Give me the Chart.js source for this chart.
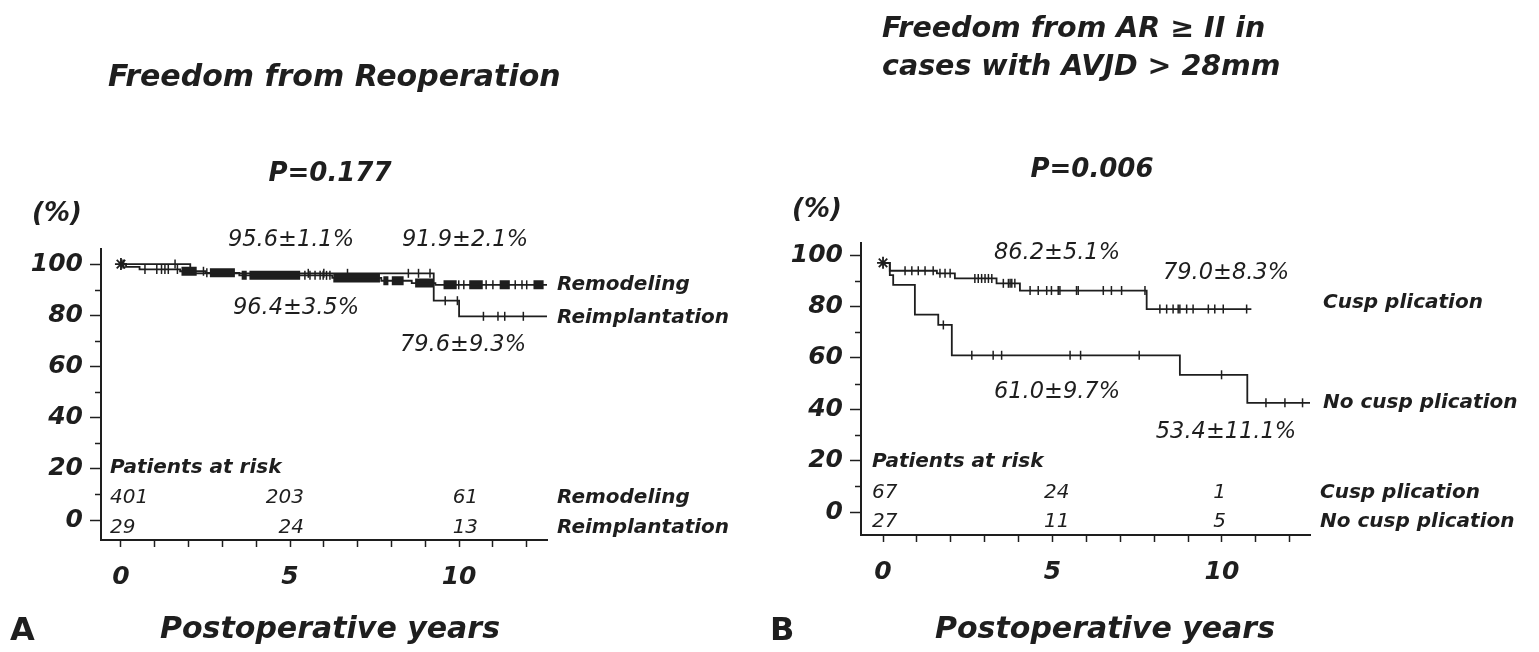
<!DOCTYPE html>
<html>
<head>
<meta charset="utf-8">
<script src="https://cdn.jsdelivr.net/npm/chart.js@4.4.0/dist/chart.umd.min.js"></script>
<style>
  html, body { margin: 0; padding: 0; background: #fff; }
  #wrap { position: relative; width: 1539px; height: 652px; overflow: hidden; }
  .panel { position: absolute; top: 0; height: 652px; }
  #pA { left: 0; width: 770px; }
  #pB { left: 770px; width: 769px; }
</style>
</head>
<body>
<div id="wrap">
  <div class="panel" id="pA"><canvas id="chartA"></canvas></div>
  <div class="panel" id="pB"><canvas id="chartB"></canvas></div>
</div>
<script>
// ---- data, panel A: freedom from reoperation ----
const remodelingYears = [0, 0.15, 0.55, 1.75, 2.5, 3.5, 6.25, 7.7, 8.6, 9.3, 12.75];
const remodelingPct   = [100, 98.9, 97.9, 97.2, 96.6, 95.6, 94.6, 93.5, 92.6, 91.9, 91.9];
const remodelingCensor = [0.03, 0.08, 0.71, 1.06, 1.2, 1.3, 1.4, 1.67, 2.44, 2.54, 5.44, 5.59, 5.74, 5.89, 5.98, 6.08, 6.18, 9.99, 10.14, 10.8, 11.0, 11.66, 11.86, 12.0];
// stretches where the censoring ticks merge into a solid bar
const remodelingCensorRuns = [[1.79, 2.24], [2.63, 3.37], [3.57, 3.72], [3.8, 5.3], [6.28, 7.66], [7.76, 7.91], [8.01, 8.36], [8.7, 9.25], [9.54, 9.93], [10.3, 10.7], [11.2, 11.5], [12.2, 12.5]];

const reimplantYears = [0, 2.05, 9.25, 10.0, 12.65];
const reimplantPct   = [100, 96.4, 85.7, 79.6, 79.6];
const reimplantCensor = [1.6, 5.54, 6.0, 6.7, 8.5, 8.8, 9.14, 9.59, 9.95, 10.72, 11.15, 11.35, 11.9];

// ---- data, panel B: freedom from AR >= II, AVJD > 28mm ----
const cuspYears = [0, 0.2, 1.59, 2.12, 3.35, 4.04, 7.78, 10.87];
const cuspPct   = [97, 93.9, 92.9, 90.9, 89.0, 86.2, 79.0, 79.0];
const cuspCensor = [0.65, 0.85, 1.04, 1.24, 1.48, 1.68, 1.83, 1.98, 2.71, 2.81, 2.91, 3.01, 3.11, 3.21, 3.55, 3.70, 3.75, 3.80, 3.89,
  4.34, 4.58, 4.83, 4.97, 5.17, 5.22, 5.71, 5.76, 6.50, 6.74, 7.04, 7.73, 8.17, 8.37, 8.56, 8.71, 8.76, 8.96, 9.15, 9.60, 9.79, 10.04, 10.73];

const noCuspYears = [0, 0.2, 0.3, 0.94, 1.63, 2.03, 8.76, 10.75, 12.6];
const noCuspPct   = [97, 92.2, 88.4, 76.8, 72.8, 61.0, 53.4, 42.5, 42.5];
const noCuspCensor = [1.78, 2.62, 3.25, 3.50, 5.52, 5.83, 7.56, 9.99, 11.30, 11.86, 12.38];

// ---- patients at risk ----
const riskYears = [0, 5, 10];
const riskRemodeling = [401, 203, 61];
const riskReimplant = [29, 24, 13];
const riskCusp = [67, 24, 1];
const riskNoCusp = [27, 11, 5];

const xTickLabels = [0, 5, 10];
const yTickLabels = [0, 20, 40, 60, 80, 100];

const INK = '#1e1e1e';
const FAM = '"DejaVu Sans", sans-serif';

function survAt(T, S, t) {
  let s = S[0];
  for (let i = 0; i < T.length; i++) if (T[i] <= t) s = S[i];
  return s;
}

function curveSet(T, S) {
  return {
    type: 'line', data: T.map((t, i) => ({x: t, y: S[i]})),
    stepped: true, borderColor: INK, borderWidth: 1.8, pointRadius: 0, fill: false
  };
}
function censorSet(T, S, times) {
  return {
    type: 'scatter', data: times.map(t => ({x: t, y: survAt(T, S, t)})),
    pointStyle: 'line', rotation: 90, radius: 4.5, borderColor: INK, borderWidth: 1.5, backgroundColor: INK
  };
}
function runSet(T, S, runs) {
  const pts = [];
  runs.forEach(([a, b]) => {
    const s = survAt(T, S, a);
    pts.push({x: a, y: s}, {x: b, y: s}, {x: b, y: null});
  });
  return {
    type: 'line', data: pts, borderColor: INK, borderWidth: 9, borderCapStyle: 'butt',
    pointRadius: 0, spanGaps: false, fill: false
  };
}
function startSet(T, S) {
  return {
    type: 'scatter', data: [{x: T[0], y: S[0]}],
    pointStyle: 'star', radius: 6, borderColor: INK, borderWidth: 1.8
  };
}

const textPlugin = {
  id: 'texts',
  afterDraw(chart, args, opts) {
    const ctx = chart.ctx;
    const xs = chart.scales.x;
    const ys = chart.scales.y;
    ctx.save();
    ctx.fillStyle = INK;
    ctx.textBaseline = 'middle';
    // short minor ticks on the y axis
    ctx.strokeStyle = INK;
    ctx.lineWidth = 1.5;
    ys.ticks.forEach(tk => {
      if (yTickLabels.includes(tk.value)) return;
      const py = Math.round(ys.getPixelForValue(tk.value)) + 0.5;
      ctx.beginPath();
      ctx.moveTo(ys.right - 6, py);
      ctx.lineTo(ys.right, py);
      ctx.stroke();
    });
    (opts.items || []).forEach(it => {
      ctx.font = it.font;
      ctx.textAlign = it.align || 'left';
      ctx.fillText(it.t, it.x, it.y);
    });
    // patients at risk table
    const r = opts.risk;
    ctx.font = r.font;
    r.rows.forEach((row, ri) => {
      row.forEach((n, i) => {
        if (i === 0) {
          ctx.textAlign = 'left';
          ctx.fillText(String(n), xs.left + r.firstInset, r.y[ri]);
        } else {
          ctx.textAlign = 'right';
          ctx.fillText(String(n), xs.getPixelForValue(riskYears[i]) + r.rightShift[i], r.y[ri]);
        }
      });
    });
    ctx.restore();
  }
};

function axisFont(size) {
  return {family: FAM, size: size, weight: 'bold', style: 'italic'};
}

function makeChart(id, p) {
  return new Chart(document.getElementById(id), {
    data: {datasets: p.datasets},
    options: {
      responsive: true, maintainAspectRatio: false, animation: false,
      layout: {padding: p.padding},
      plugins: {legend: {display: false}, tooltip: {enabled: false}, texts: {items: p.items, risk: p.risk}},
      scales: {
        x: {
          type: 'linear', min: p.xMin, max: p.xMax,
          border: {display: true, color: INK, width: 2},
          grid: {drawOnChartArea: false, drawTicks: true, tickLength: 7, tickColor: INK, tickWidth: 1.5},
          ticks: {stepSize: 1, autoSkip: false, includeBounds: false, maxRotation: 0, padding: 15, color: INK,
            font: axisFont(25), callback: v => xTickLabels.includes(v) ? String(v) : ''},
          afterFit: s => { s.height = 60; s.paddingLeft = 0; s.paddingRight = 0; }
        },
        y: {
          type: 'linear', min: p.yMin, max: p.yMax,
          border: {display: true, color: INK, width: 2},
          grid: {drawOnChartArea: false, drawTicks: true, tickLength: 11, tickWidth: 1.5,
            tickColor: c => yTickLabels.includes(c.tick.value) ? INK : 'rgba(0,0,0,0)'},
          ticks: {stepSize: 10, autoSkip: false, includeBounds: false, padding: 7, color: INK,
            font: axisFont(25), callback: v => yTickLabels.includes(v) ? String(v) : ''},
          afterFit: s => { s.width = p.yWidth; s.paddingTop = 0; s.paddingBottom = 0; }
        }
      }
    },
    plugins: [textPlugin]
  });
}

const fTitleA = 'bold italic 30px ' + FAM;
const fTitleB = 'bold italic 28.5px ' + FAM;
const fBig = 'bold italic 26px ' + FAM;
const fAxisTitle = 'bold italic 30px ' + FAM;
const fPct = 'italic 22.5px ' + FAM;
const fLab = 'bold italic 20px ' + FAM;
const fRisk = 'italic 20px ' + FAM;
const fPanel = 'bold 32px ' + FAM;

makeChart('chartA', {
  datasets: [
    curveSet(remodelingYears, remodelingPct),
    curveSet(reimplantYears, reimplantPct),
    runSet(remodelingYears, remodelingPct, remodelingCensorRuns),
    censorSet(remodelingYears, remodelingPct, remodelingCensor),
    censorSet(reimplantYears, reimplantPct, reimplantCensor),
    startSet(remodelingYears, remodelingPct)
  ],
  padding: {left: 0, top: 249, right: 223, bottom: 52},
  yWidth: 101, xMin: -0.59, xMax: 12.6, yMin: -7.8, yMax: 105.9,
  items: [
    {t: 'Freedom from Reoperation', x: 108, y: 78, font: fTitleA},
    {t: 'P=0.177', x: 330, y: 174, font: fBig, align: 'center'},
    {t: '(%)', x: 57, y: 214, font: fBig, align: 'center'},
    {t: 'A', x: 10, y: 632, font: fPanel},
    {t: 'Postoperative years', x: 330, y: 630, font: fAxisTitle, align: 'center'},
    {t: '95.6\u00b11.1%', x: 291, y: 240, font: fPct, align: 'center'},
    {t: '91.9\u00b12.1%', x: 465, y: 240, font: fPct, align: 'center'},
    {t: '96.4\u00b13.5%', x: 296, y: 308, font: fPct, align: 'center'},
    {t: '79.6\u00b19.3%', x: 463, y: 345, font: fPct, align: 'center'},
    {t: 'Remodeling', x: 557, y: 285, font: fLab},
    {t: 'Reimplantation', x: 557, y: 318, font: fLab},
    {t: 'Patients at risk', x: 110, y: 468, font: fLab},
    {t: 'Remodeling', x: 557, y: 498, font: fLab},
    {t: 'Reimplantation', x: 557, y: 528, font: fLab}
  ],
  risk: {font: fRisk, rows: [riskRemodeling, riskReimplant], y: [498, 528], firstInset: 9, rightShift: [0, 14, 19]}
});

makeChart('chartB', {
  datasets: [
    curveSet(cuspYears, cuspPct),
    curveSet(noCuspYears, noCuspPct),
    censorSet(cuspYears, cuspPct, cuspCensor),
    censorSet(noCuspYears, noCuspPct, noCuspCensor),
    startSet(cuspYears, cuspPct)
  ],
  padding: {left: 0, top: 243, right: 229, bottom: 57},
  yWidth: 91, xMin: -0.65, xMax: 12.6, yMin: -8.95, yMax: 104.7,
  items: [
    {t: 'Freedom from AR \u2265 II in', x: 112, y: 30, font: fTitleB},
    {t: 'cases with AVJD > 28mm', x: 112, y: 68, font: fTitleB},
    {t: 'P=0.006', x: 322, y: 170, font: fBig, align: 'center'},
    {t: '(%)', x: 47, y: 210, font: fBig, align: 'center'},
    {t: 'B', x: 0, y: 632, font: fPanel},
    {t: 'Postoperative years', x: 335, y: 630, font: fAxisTitle, align: 'center'},
    {t: '86.2\u00b15.1%', x: 287, y: 253, font: fPct, align: 'center'},
    {t: '79.0\u00b18.3%', x: 456, y: 273, font: fPct, align: 'center'},
    {t: '61.0\u00b19.7%', x: 287, y: 392, font: fPct, align: 'center'},
    {t: '53.4\u00b111.1%', x: 456, y: 432, font: fPct, align: 'center'},
    {t: 'Cusp plication', x: 553, y: 303, font: fLab},
    {t: 'No cusp plication', x: 553, y: 403, font: fLab},
    {t: 'Patients at risk', x: 102, y: 462, font: fLab},
    {t: 'Cusp plication', x: 550, y: 493, font: fLab},
    {t: 'No cusp plication', x: 550, y: 522, font: fLab}
  ],
  risk: {font: fRisk, rows: [riskCusp, riskNoCusp], y: [493, 522], firstInset: 11, rightShift: [0, 17, 4]}
});
</script>
</body>
</html>
